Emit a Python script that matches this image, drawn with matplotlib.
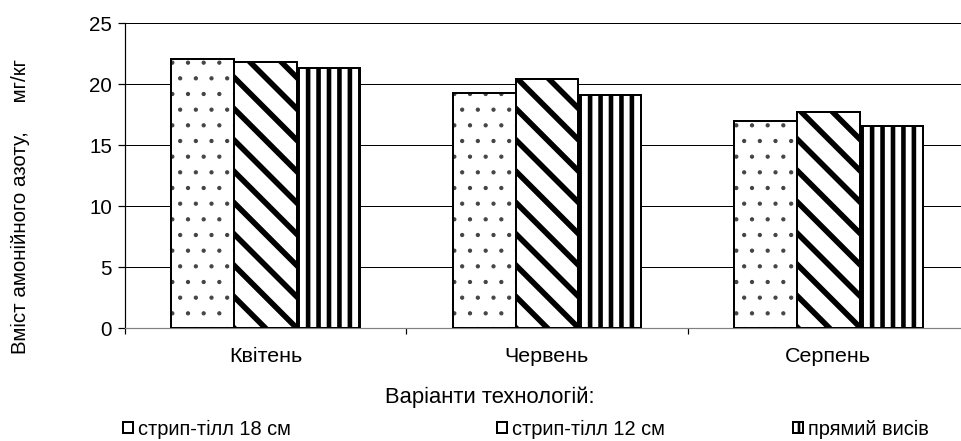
import numpy as np
import matplotlib.pyplot as plt

plt.rcParams['font.family'] = ['Liberation Sans', 'DejaVu Sans']

months = ['Квітень', 'Червень', 'Серпень']
series_names = ['стрип-тілл 18 см', 'стрип-тілл 12 см', 'прямий висів']
strip18 = [22.1, 19.3, 17.0]
strip12 = [21.8, 20.4, 17.7]
direct = [21.3, 19.1, 16.6]

DPI = 188
W, H = 961, 441


def pt(px):
    # pixel size -> points at this dpi
    return px * 72 / DPI


hatches = ['..', '\\\\', '|||']
hatch_lw = [pt(1.1), pt(5.6), pt(4.6)]
hatch_col = ['#444444', 'black', 'black']

fig = plt.figure(figsize=(W / DPI, H / DPI), dpi=DPI)
ax = fig.add_axes([125 / W, 1 - 328.3 / H, 844 / W, 305 / H])

x = np.arange(len(months))
w = 0.2235
handles = []
for k, vals in enumerate([strip18, strip12, direct]):
    pos = x + (k - 1) * w
    with plt.rc_context({'hatch.linewidth': hatch_lw[k]}):
        b = ax.bar(pos, vals, w, color='white', edgecolor=hatch_col[k],
                   linewidth=0, hatch=hatches[k], zorder=3)
    for p in b:
        if hasattr(p, 'set_hatch_linewidth'):
            p.set_hatch_linewidth(hatch_lw[k])
    outline = ax.bar(pos, vals, w, facecolor='none', edgecolor='black',
                     linewidth=pt(2.0), zorder=4)
    handles.append(outline if k == 0 else b)

ax.set_xlim(-0.5, 2.5)
ax.set_ylim(0, 25)
ax.set_yticks(range(0, 26, 5))
ax.yaxis.grid(True, color='black', linewidth=pt(1.0))
ax.set_axisbelow(True)
for s in ['top', 'right']:
    ax.spines[s].set_visible(False)
ax.spines['bottom'].set_color('#808080')
ax.spines['bottom'].set_linewidth(pt(1.2))
ax.spines['left'].set_linewidth(pt(1.2))

ax.set_xticks([-0.5, 0.5, 1.5, 2.5])
ax.set_xticklabels([])
ax.set_xticks(x, minor=True)
ax.set_xticklabels(months, minor=True)
ax.tick_params(axis='x', which='minor', length=0, pad=pt(19), labelsize=pt(21.5))
ax.tick_params(axis='x', which='major', length=pt(6), width=pt(1.2))
ax.tick_params(axis='y', length=pt(7), width=pt(1.2), labelsize=pt(20.5), pad=pt(6))

fig.text(490 / W, 1 - 397 / H, 'Варіанти технологій:', fontsize=pt(22),
         ha='center', va='center')
fig.text(20 / W, 1 - 206 / H, 'Вміст амонійного азоту,     мг/кг',
         fontsize=pt(20.5), rotation=90, ha='center', va='center')

xs = [123, 497, 793]
for k in range(3):
    leg = fig.legend([handles[k]], [series_names[k]], loc='center left',
                     bbox_to_anchor=(xs[k] / W, 1 - 429 / H), frameon=False,
                     fontsize=pt(20), handlelength=0.5, handleheight=0.5,
                     handletextpad=0.25, borderaxespad=0.0, borderpad=0.0)
    for p in leg.get_patches():
        p.set_edgecolor('black')
        p.set_linewidth(pt(2.0))

fig.savefig('out.png', dpi=DPI)
